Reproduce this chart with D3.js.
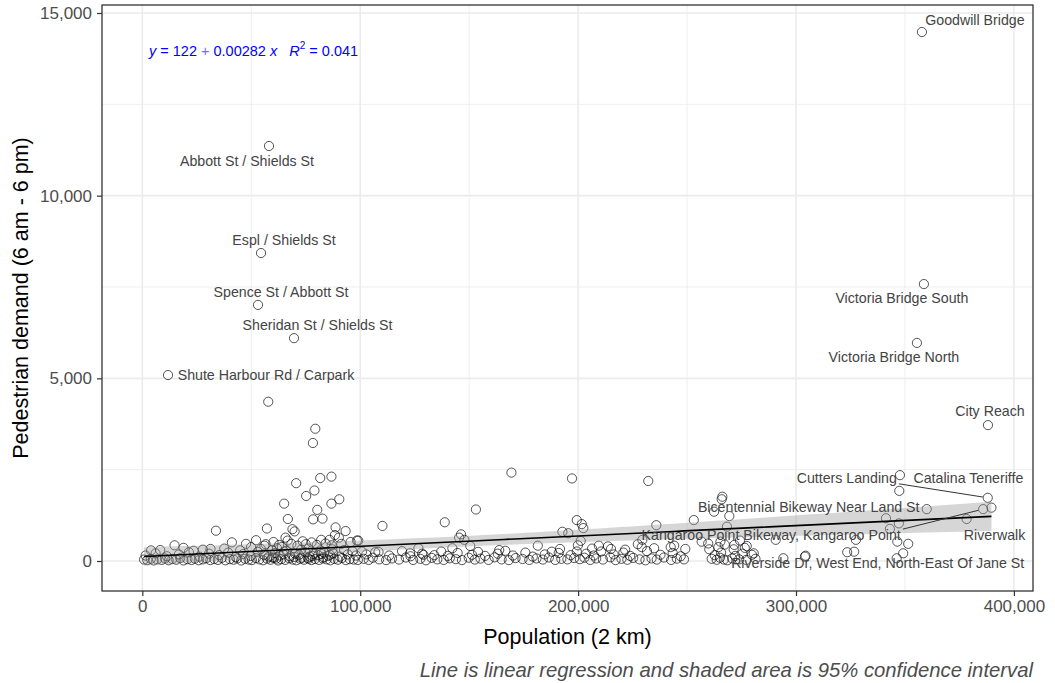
<!DOCTYPE html>
<html>
<head>
<meta charset="utf-8">
<script src="https://cdn.jsdelivr.net/npm/d3@7"></script>
<style>
  body { margin: 0; background: #fff; }
  text { font-family: "Liberation Sans", Arial, sans-serif; }
</style>
</head>
<body>
<svg id="chart" width="1055" height="683"></svg>
<script>
// axis ticks and limits
const xTicks = [0, 100000, 200000, 300000, 400000];
const yTicks = [0, 5000, 10000, 15000];
const xLimits = [-18500, 408770];
const yLimits = [-821, 15219];

// fitted line, as printed on the chart
const intercept = 122;
const slope = 0.00282;
const rSquared = 0.041;

// labelled sites [name, population, demand]
const namedSites = [
  ["Goodwill Bridge", 357800, 14480],
  ["Abbott St / Shields St", 58140, 11360],
  ["Espl / Shields St", 54480, 8430],
  ["Spence St / Abbott St", 53100, 7010],
  ["Sheridan St / Shields St", 69620, 6100],
  ["Shute Harbour Rd / Carpark", 11800, 5090],
  ["Victoria Bridge South", 358700, 7580],
  ["Victoria Bridge North", 355500, 5970],
  ["City Reach", 388100, 3720],
  ["Catalina Teneriffe", 347700, 2350],
  ["Cutters Landing", 388000, 1730],
  ["Bicentennial Bikeway Near Land St", 360000, 1420],
  ["Kangaroo Point Bikeway, Kangaroo Point", 385900, 1420],
  ["Riverwalk", 378300, 1150],
  ["Riverside Dr, West End, North-East Of Jane St", 346200, 75]
];

// where each label sits relative to its point (px), and whether it gets a leader
const labelNudge = {
  "Goodwill Bridge": [53, -7],
  "Abbott St / Shields St": [-22, 20],
  "Espl / Shields St": [23, -8],
  "Spence St / Abbott St": [23, -8],
  "Sheridan St / Shields St": [23.5, -8],
  "Shute Harbour Rd / Carpark": [98, 5],
  "Victoria Bridge South": [-22, 19],
  "Victoria Bridge North": [-23, 19],
  "City Reach": [2, -9],
  "Catalina Teneriffe": [68.5, 8],
  "Cutters Landing": [-141, -15, true],
  "Bicentennial Bikeway Near Land St": [-118, 3],
  "Kangaroo Point Bikeway, Kangaroo Point": [-212, 31, true],
  "Riverwalk": [28, 21],
  "Riverside Dr, West End, North-East Of Jane St": [-19, 10]
};

// all other sites [population, demand]
const otherSites = [
  [57800, 4360], [79400, 3620], [78300, 3230],
  [70600, 2130], [81650, 2270], [86800, 2310], [79000, 1930], [75200, 1780],
  [86800, 1570], [90400, 1690], [65100, 1570], [80300, 1400], [78400, 1140],
  [82700, 1160], [66800, 1150], [57200, 890], [33800, 830], [68900, 870],
  [69900, 810], [65700, 640], [88700, 920], [93300, 820], [88400, 710],
  [90200, 640], [41100, 510], [52200, 570], [56600, 460], [82100, 580],
  [85900, 580], [98500, 560], [4000, 290], [14800, 430], [18900, 360],
  [27800, 310], [31300, 330], [49900, 380], [64100, 390],
  [99100, 560], [110200, 960], [138800, 1060], [153100, 1410], [169400, 2420],
  [197200, 2260], [199400, 1120], [201700, 1010], [192800, 800], [195500, 760],
  [202400, 900], [146300, 730], [145400, 640], [147800, 580], [150500, 410],
  [142300, 350], [181500, 420], [163800, 300], [199900, 430], [201200, 550],
  [126700, 350], [122900, 210], [129000, 170], [108400, 250], [100800, 255],
  [191700, 330], [187900, 255],
  [232200, 2190], [266200, 1760], [265900, 1690], [262400, 1350], [269400, 1230],
  [253100, 1120], [235900, 980], [268300, 940], [229500, 580], [256700, 530],
  [274300, 560], [290700, 580], [271700, 440], [265300, 530], [277400, 410],
  [209500, 420], [215100, 330], [229200, 380], [242500, 380], [260200, 320],
  [280600, 210], [294200, 75], [304100, 120],
  [347400, 1920], [389700, 1460], [341300, 1170], [347200, 1030],
  [343100, 880], [327500, 580], [346500, 530], [351500, 470], [349200, 210],
  [326700, 255], [323500, 240], [304400, 145],
  // 0 - 100k, low demand
  [800, 40], [2300, 25], [3900, 60], [5200, 15], [6800, 45], [8900, 30], [10400, 70],
  [12100, 20], [13800, 55], [15600, 35], [17400, 80], [18900, 15], [20700, 50],
  [22600, 30], [24100, 65], [25900, 20], [27800, 45], [29300, 75], [31200, 25],
  [33000, 55], [34700, 30], [36500, 85], [38100, 20], [40200, 50], [41900, 35],
  [43600, 70], [45400, 15], [47100, 60], [48800, 40], [50300, 25], [52100, 80],
  [53700, 45], [55400, 20], [57200, 65], [58900, 35], [60500, 90], [62300, 15],
  [63800, 50], [65600, 30], [67400, 75], [69000, 40], [70700, 20], [72500, 60],
  [74200, 35], [75900, 85], [77600, 25], [79300, 55], [81100, 30], [82800, 70],
  [84600, 45], [86300, 20], [88100, 60], [89800, 35], [91600, 80], [93400, 25],
  [95200, 50], [97000, 40], [98900, 30],
  [1500, 150], [6100, 210], [11300, 130], [16800, 180], [21400, 240], [26200, 120],
  [30600, 200], [35300, 160], [39400, 230], [42800, 110], [46300, 190], [49700, 140],
  [52900, 250], [55900, 170], [58100, 120], [60900, 220], [63100, 150], [65100, 260],
  [67700, 130], [70100, 200], [71900, 170], [74800, 240], [76800, 120], [78600, 190],
  [80700, 160], [83400, 230], [85300, 140], [87600, 210], [90700, 120], [94300, 180],
  [98100, 150],
  [8200, 300], [23500, 280], [37600, 340], [44900, 290], [54400, 330], [59600, 300],
  [61800, 350], [66200, 280], [72900, 310], [76200, 340], [81800, 290], [87200, 320],
  [92600, 300], [96400, 270],
  [47600, 470], [56000, 420], [60200, 520], [62800, 440], [66700, 560], [68400, 470],
  [71200, 420], [73600, 540], [75000, 460], [77700, 510], [80100, 440], [84100, 480],
  [86900, 430], [91300, 470], [95600, 520],
  [59800, 95], [64700, 180], [69700, 110], [73100, 90], [78100, 140], [83100, 105],
  [86100, 170], [61500, 65], [76300, 60], [82200, 195],
  // 100k - 200k, low demand
  [101600, 60], [103900, 30], [105800, 90], [108700, 45], [111900, 25], [114600, 70],
  [117800, 40], [120900, 95], [124300, 30], [127600, 60], [130200, 20], [132800, 85],
  [135400, 45], [138300, 30], [141100, 75], [143900, 50], [146700, 25], [149800, 90],
  [152600, 40], [155200, 65], [158900, 30], [161700, 100], [164900, 45], [168200, 25],
  [171300, 80], [174500, 55], [177600, 30], [180900, 70], [183800, 40], [186600, 95],
  [189500, 30], [192300, 60], [195100, 45], [198200, 80],
  [102800, 180], [106900, 240], [113300, 150], [119200, 270], [123100, 130],
  [128400, 200], [134000, 160], [137200, 260], [140200, 140], [144700, 220],
  [151300, 170], [154100, 250], [157300, 140], [163100, 200], [166600, 280],
  [170100, 150], [175800, 230], [179200, 120], [184700, 180], [191100, 220],
  [196600, 160], [199400, 260],
  // 200k - 300k, low demand
  [200800, 50], [202900, 90], [205600, 30], [208300, 70], [211400, 40], [214800, 100],
  [217200, 25], [219900, 60], [222600, 35], [225300, 85], [228200, 45], [230900, 20],
  [233700, 70], [236100, 40], [239400, 95], [242700, 30], [245300, 65], [248600, 45],
  [261300, 60], [263600, 35], [265100, 90], [266900, 40], [268500, 20], [270700, 70],
  [273900, 45], [277200, 30], [281400, 60],
  [203700, 200], [207200, 150], [210600, 260], [216300, 180], [220800, 230],
  [223900, 140], [231600, 270], [237800, 170], [243400, 220], [247100, 130],
  [262700, 160], [265600, 230], [272100, 140], [275400, 200], [279800, 170],
  [206400, 340], [213700, 400], [221600, 310], [227400, 460], [234900, 350],
  [244100, 420], [249200, 330], [259700, 480], [264400, 380], [267300, 450],
  [271400, 320], [276500, 360]
];

const svg = d3.select("#chart");
const margin = {top: 5, right: 22, bottom: 92, left: 102};
const W = 1055, H = 683;

const x = d3.scaleLinear().domain(xLimits).range([margin.left, W - margin.right]);
const y = d3.scaleLinear().domain(yLimits).range([H - margin.bottom, margin.top]);

const fmt = d3.format(",");

// grid
const grid = svg.append("g");
const xMinor = xTicks.slice(0, -1).map(d => d + 50000);
const yMinor = yTicks.map(d => d + 2500).filter(d => d < yLimits[1]);
grid.selectAll(".xm").data(xMinor).enter().append("line")
  .attr("x1", d => x(d)).attr("x2", d => x(d))
  .attr("y1", y.range()[0]).attr("y2", y.range()[1])
  .attr("stroke", "#ebebeb").attr("stroke-width", 0.8);
grid.selectAll(".ym").data(yMinor).enter().append("line")
  .attr("y1", d => y(d)).attr("y2", d => y(d))
  .attr("x1", x.range()[0]).attr("x2", x.range()[1])
  .attr("stroke", "#ebebeb").attr("stroke-width", 0.8);
grid.selectAll(".xM").data(xTicks).enter().append("line")
  .attr("x1", d => x(d)).attr("x2", d => x(d))
  .attr("y1", y.range()[0]).attr("y2", y.range()[1])
  .attr("stroke", "#ebebeb").attr("stroke-width", 1.6);
grid.selectAll(".yM").data(yTicks).enter().append("line")
  .attr("y1", d => y(d)).attr("y2", d => y(d))
  .attr("x1", x.range()[0]).attr("x2", x.range()[1])
  .attr("stroke", "#ebebeb").attr("stroke-width", 1.6);

// points
const allPoints = otherSites.concat(namedSites.map(d => [d[1], d[2]]));
svg.append("g").selectAll("circle").data(allPoints).enter().append("circle")
  .attr("cx", d => x(d[0])).attr("cy", d => y(d[1]))
  .attr("r", 4.6)
  .attr("fill", "none")
  .attr("stroke", "#000")
  .attr("stroke-opacity", 0.7)
  .attr("stroke-width", 0.95);

// regression band (95% CI around the printed fit)
const n = allPoints.length;
const meanX = d3.mean(allPoints, d => d[0]);
const sxx = d3.sum(allPoints, d => (d[0] - meanX) ** 2);
const sse = d3.sum(allPoints, d => (d[1] - (intercept + slope * d[0])) ** 2);
const s = Math.sqrt(sse / (n - 2));
const tCrit = 1.966;
const [xmin, xmax] = d3.extent(allPoints, d => d[0]);
const fitX = d3.range(0, 81).map(i => xmin + (xmax - xmin) * i / 80);
const fit = fitX.map(v => {
  const yh = intercept + slope * v;
  const se = s * Math.sqrt(1 / n + (v - meanX) ** 2 / sxx);
  return {x: v, y: yh, lo: yh - tCrit * se, hi: yh + tCrit * se};
});
svg.append("path").datum(fit)
  .attr("d", d3.area().x(d => x(d.x)).y0(d => y(d.lo)).y1(d => y(d.hi)))
  .attr("fill", "#999").attr("fill-opacity", 0.4);
svg.append("path").datum(fit)
  .attr("d", d3.line().x(d => x(d.x)).y(d => y(d.y)))
  .attr("fill", "none").attr("stroke", "#000").attr("stroke-width", 1.6);

// labels
const lab = svg.append("g");
namedSites.forEach(d => {
  const px = x(d[1]), py = y(d[2]);
  const nd = labelNudge[d[0]];
  const t = lab.append("text")
    .attr("x", px + nd[0]).attr("y", py + nd[1])
    .attr("text-anchor", "middle")
    .attr("font-size", "14.2px")
    .attr("fill", "#444")
    .text(d[0]);
  if (nd[2]) {
    const b = t.node().getBBox();
    const sx = Math.max(b.x - 2, Math.min(px, b.x + b.width + 2));
    const sy = Math.max(b.y + 2, Math.min(py, b.y + b.height - 2));
    const len = Math.hypot(px - sx, py - sy);
    const ex = px - (px - sx) / len * 5, ey = py - (py - sy) / len * 5;
    lab.append("line")
      .attr("x1", sx).attr("y1", sy).attr("x2", ex).attr("y2", ey)
      .attr("stroke", "#333").attr("stroke-width", 1);
  }
});

// equation
const nb = "\u00a0";
const eq = svg.append("text")
  .attr("x", x(xLimits[0]) + 47).attr("y", y(14000) + 6)
  .attr("font-size", "14.5px").attr("fill", "#0000ff");
eq.append("tspan").attr("font-style", "italic").text("y");
eq.append("tspan").text(nb + "=" + nb + intercept + nb);
eq.append("tspan").attr("fill", "#6f6fff").text("+");
eq.append("tspan").text(nb + "0.00282" + nb);
eq.append("tspan").attr("font-style", "italic").text("x");
eq.append("tspan").text(nb + nb + nb);
eq.append("tspan").attr("font-style", "italic").text("R");
eq.append("tspan").attr("font-size", "10px").attr("dy", -7).text("2");
eq.append("tspan").attr("dy", 7).text(nb + "=" + nb + rSquared.toFixed(3));

// panel border
svg.append("rect")
  .attr("x", x.range()[0]).attr("y", y.range()[1])
  .attr("width", x.range()[1] - x.range()[0])
  .attr("height", y.range()[0] - y.range()[1])
  .attr("fill", "none").attr("stroke", "#333").attr("stroke-width", 1.3);

// axes
const xAxis = svg.append("g")
  .attr("transform", `translate(0,${y.range()[0]})`)
  .call(d3.axisBottom(x).tickValues(xTicks).tickFormat(fmt).tickSizeOuter(0).tickSize(5).tickPadding(4));
const yAxis = svg.append("g")
  .attr("transform", `translate(${x.range()[0]},0)`)
  .call(d3.axisLeft(y).tickValues(yTicks).tickFormat(fmt).tickSizeOuter(0).tickSize(5).tickPadding(5));
[xAxis, yAxis].forEach(a => {
  a.select(".domain").remove();
  a.selectAll(".tick line").attr("stroke", "#333").attr("stroke-width", 1.2);
  a.selectAll(".tick text").attr("fill", "#4d4d4d").attr("font-size", "17px")
    .attr("font-family", "Liberation Sans, Arial, sans-serif");
});

// titles
svg.append("text")
  .attr("x", (x.range()[0] + x.range()[1]) / 2).attr("y", 644)
  .attr("text-anchor", "middle").attr("font-size", "21.5px").attr("fill", "#000")
  .text("Population (2 km)");
svg.append("text")
  .attr("transform", `translate(28,${(y.range()[0] + y.range()[1]) / 2}) rotate(-90)`)
  .attr("text-anchor", "middle").attr("font-size", "21.5px").attr("fill", "#000")
  .text("Pedestrian demand (6 am - 6 pm)");
svg.append("text")
  .attr("x", x.range()[1]).attr("y", 677)
  .attr("text-anchor", "end").attr("font-size", "20.3px").attr("font-style", "italic")
  .attr("fill", "#4d4d4d")
  .text("Line is linear regression and shaded area is 95% confidence interval");
</script>
</body>
</html>
